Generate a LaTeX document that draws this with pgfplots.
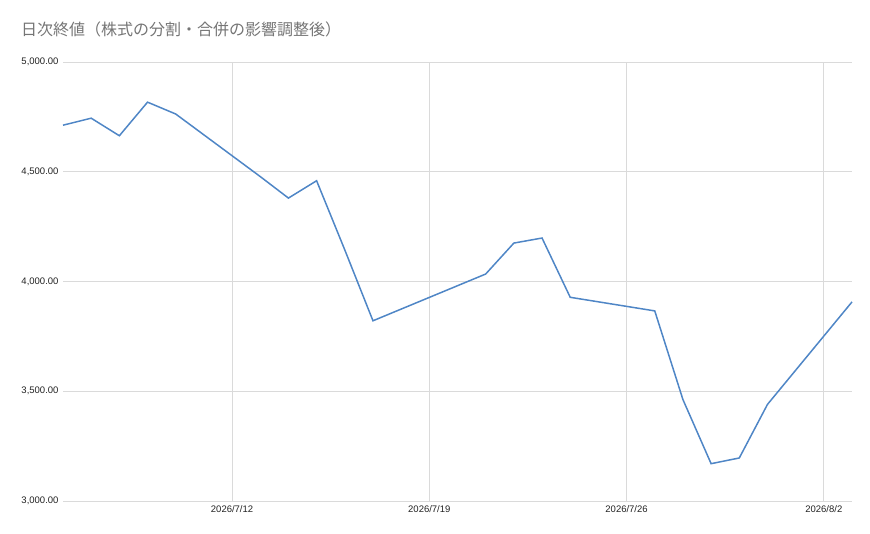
\documentclass[border=0pt]{standalone}
\usepackage{pgfplots}
\pgfplotsset{compat=1.18}
\usepackage{fontspec}
\setmainfont{Liberation Sans}
\newfontfamily\cjk{Noto Sans CJK JP}
\definecolor{linec}{HTML}{4F86C6}
\definecolor{gridc}{HTML}{DADADA}
\definecolor{titlec}{HTML}{757575}
\definecolor{tickc}{HTML}{222222}
\begin{document}
\begin{tikzpicture}[x=1pt,y=1pt]
\useasboundingbox (0,0) rectangle (870,534);
\node[anchor=base west, inner sep=0pt, text=titlec, font=\cjk\fontsize{16}{18}\selectfont] at (21,498) {日次終値（株式の分割・合併の影響調整後）};
\begin{axis}[
  at={(63pt,33pt)}, anchor=south west,
  scale only axis, width=789pt, height=439pt,
  xmin=0, xmax=28, ymin=3000, ymax=5000,
  axis line style={draw=none},
  major tick length=0pt,
  xtick={6,13,20,27},
  xticklabels={2026/7/12,2026/7/19,2026/7/26,2026/8/2},
  ytick={3000,3500,4000,4500,5000},
  yticklabels={{3,000.00},{3,500.00},{4,000.00},{4,500.00},{5,000.00}},
  grid=major,
  major grid style={draw=gridc, line width=0.9pt},
  tick label style={font=\fontsize{9.5}{11}\selectfont, text=tickc},
  xticklabel style={yshift=-1pt},
  yticklabel style={xshift=-1pt},
  clip=false,
]
\addplot[linec, line width=1.5pt, mark=none] coordinates {
(0,4712) (1,4744) (2,4664) (3,4817) (4,4763)
(7,4478) (8,4380) (9,4459) (10,4144) (11,3821)
(15,4034) (16,4175) (17,4198) (18,3928)
(21,3866) (22,3462) (23,3170) (24,3196) (25,3440)
(28,3907)
};
\end{axis}
\end{tikzpicture}
\end{document}
